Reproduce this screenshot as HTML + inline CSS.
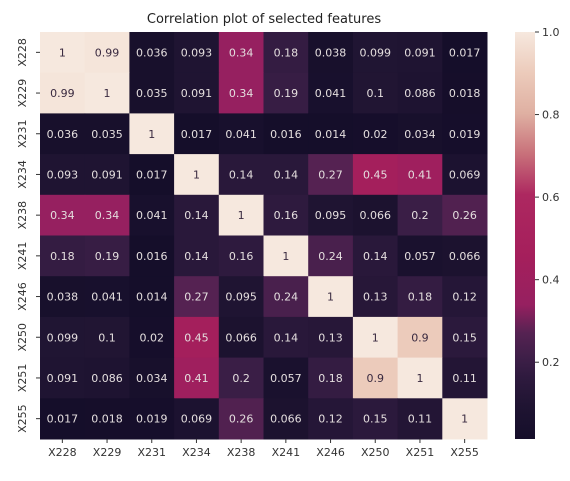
<!DOCTYPE html>
<html><head><meta charset="utf-8"><style>
body{margin:0;background:#fff;width:570px;height:476px;overflow:hidden}
svg text{font-family:"DejaVu Sans","Liberation Sans",sans-serif}
</style></head><body>
<svg id="chart" width="570" height="476">
<defs><linearGradient id="cbg" x1="0" y1="1" x2="0" y2="0"></linearGradient></defs>
<text x="264" y="23" text-anchor="middle" font-size="13" fill="#222">Correlation plot of selected features</text>
<g id="cells"></g><g id="ticks"></g><g id="cbar"></g>
</svg>
<script>
const labels=["X228","X229","X231","X234","X238","X241","X246","X250","X251","X255"];
const rowX228=[1,0.99,0.036,0.093,0.34,0.18,0.038,0.099,0.091,0.017];
const rowX229=[0.99,1,0.035,0.091,0.34,0.19,0.041,0.1,0.086,0.018];
const rowX231=[0.036,0.035,1,0.017,0.041,0.016,0.014,0.02,0.034,0.019];
const rowX234=[0.093,0.091,0.017,1,0.14,0.14,0.27,0.45,0.41,0.069];
const rowX238=[0.34,0.34,0.041,0.14,1,0.16,0.095,0.066,0.2,0.26];
const rowX241=[0.18,0.19,0.016,0.14,0.16,1,0.24,0.14,0.057,0.066];
const rowX246=[0.038,0.041,0.014,0.27,0.095,0.24,1,0.13,0.18,0.12];
const rowX250=[0.099,0.1,0.02,0.45,0.066,0.14,0.13,1,0.9,0.15];
const rowX251=[0.091,0.086,0.034,0.41,0.2,0.057,0.18,0.9,1,0.11];
const rowX255=[0.017,0.018,0.019,0.069,0.26,0.066,0.12,0.15,0.11,1];
const matrix=[rowX228,rowX229,rowX231,rowX234,rowX238,rowX241,rowX246,rowX250,rowX251,rowX255];
const cbTicks=[0.2,0.4,0.6,0.8,1.0];
const vmin=0.014,vmax=1;
const stops=[[0,"#150e2a"],[0.08,"#1f1432"],[0.15,"#2e1a3e"],[0.2,"#3e1f48"],[0.26,"#552252"],[0.33,"#962060"],[0.45,"#a51f5c"],[0.6,"#ad2860"],[0.7,"#c8707a"],[0.8,"#dfb0a2"],[0.9,"#eccbbb"],[1,"#f6e8de"]];
function hex(c){return [1,3,5].map(i=>parseInt(c.substr(i,2),16));}
function color(v){let t=(v-vmin)/(vmax-vmin);t=Math.max(0,Math.min(1,t));
for(let i=1;i<stops.length;i++){if(t<=stops[i][0]){const a=stops[i-1],b=stops[i];const f=(t-a[0])/(b[0]-a[0]);const ca=hex(a[1]),cb=hex(b[1]);return "rgb("+ca.map((x,k)=>Math.round(x+(cb[k]-x)*f)).join(",")+")";}}return stops[stops.length-1][1];}
const X0=40,Y0=32,W=447,H=407,n=labels.length,cw=W/n,ch=H/n;
const xPos=i=>X0+i*cw, yPos=j=>Y0+j*ch;
const NS="http://www.w3.org/2000/svg";
const cells=document.getElementById('cells'),ticks=document.getElementById('ticks'),cbar=document.getElementById('cbar');
function mk(tag,attrs,parent,txt){const e=document.createElementNS(NS,tag);for(const k in attrs)e.setAttribute(k,attrs[k]);if(txt!==undefined)e.textContent=txt;parent.appendChild(e);return e;}
matrix.forEach((row,j)=>row.forEach((v,i)=>{
 const r=mk('rect',{x:xPos(i),y:yPos(j),width:cw+0.5,height:ch+0.5,fill:color(v)},cells);
 
 
 const t=mk('text',{x:xPos(i)+cw/2,y:yPos(j)+ch/2+4,'text-anchor':'middle','font-size':11,fill:v>0.6?'#3a2a40':'#e4dede'},cells,String(v));
 
 
}));
labels.forEach((l,i)=>{
 const cx=xPos(i)+cw/2;
 mk('line',{x1:cx,x2:cx,y1:Y0+H,y2:Y0+H+4,stroke:'#333'},ticks);
 const t=mk('text',{x:cx,y:Y0+H+17,'text-anchor':'middle','font-size':11,fill:'#333'},ticks,l);
 
 
 const cy=yPos(i)+ch/2;
 mk('line',{x1:X0-4,x2:X0,y1:cy,y2:cy,stroke:'#333'},ticks);
 const ty=mk('text',{x:0,y:0,'text-anchor':'middle','font-size':11,fill:'#333',transform:'translate(26,'+cy+') rotate(-90)'},ticks,l);
 
 
});
const grad=document.getElementById('cbg');
stops.forEach(s=>mk('stop',{offset:s[0],'stop-color':s[1]},grad));
const CX=515,CW=20,CT=32,CB=439;
const cbY=v=>CB-(v-vmin)/(vmax-vmin)*(CB-CT);
const cr=mk('rect',{x:CX,y:CT,width:CW,height:CB-CT,fill:'url(#cbg)'},cbar);


cbTicks.forEach(v=>{const y=cbY(v);
 mk('line',{x1:CX+CW,x2:CX+CW+4,y1:y,y2:y,stroke:'#333'},cbar);
 const t=mk('text',{x:CX+CW+7,y:y+4,'font-size':11,fill:'#333'},cbar,v.toFixed(1));
 
 
});
</script>
</body></html>
